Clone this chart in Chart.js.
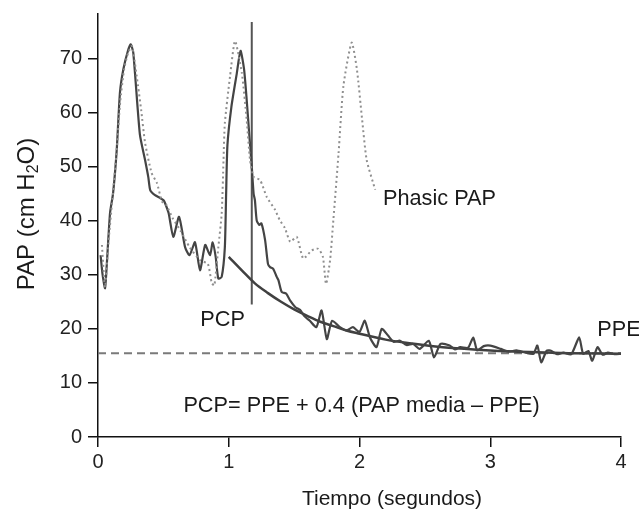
<!DOCTYPE html>
<html>
<head>
<meta charset="utf-8">
<script src="https://cdn.jsdelivr.net/npm/chart.js@4/dist/chart.umd.min.js"></script>
<style>
  body { margin: 0; background: #fff; }
  canvas { display: block; }
</style>
</head>
<body>
<canvas id="chart" width="639" height="510"></canvas>
<script>
// PAP medida (trazo continuo)
const pasTime = [0.02, 0.035, 0.054, 0.066, 0.092, 0.115, 0.143, 0.168, 0.194, 0.23, 0.25, 0.27, 0.32, 0.36, 0.385, 0.40,
  0.436, 0.474, 0.5, 0.51, 0.54, 0.576, 0.62, 0.666, 0.70, 0.742, 0.78, 0.82, 0.857, 0.877, 0.90, 0.92, 0.946, 0.97,
  0.98, 0.99, 1.02, 1.06, 1.09, 1.117, 1.137, 1.158, 1.176, 1.19, 1.20, 1.214, 1.234, 1.25, 1.278, 1.30, 1.316, 1.34,
  1.367, 1.38, 1.405, 1.44, 1.47, 1.51, 1.545, 1.58, 1.62, 1.67, 1.71, 1.75, 1.79, 1.85, 1.90, 1.95, 2.0, 2.04, 2.08,
  2.13, 2.17, 2.22, 2.26, 2.31, 2.36, 2.41, 2.46, 2.53, 2.57, 2.62, 2.69, 2.73, 2.77, 2.83, 2.87, 2.90, 2.95, 3.0,
  3.08, 3.14, 3.2, 3.27, 3.33, 3.36, 3.39, 3.43, 3.46, 3.51, 3.56, 3.62, 3.68, 3.71, 3.75, 3.78, 3.82, 3.86, 3.9, 3.95, 4.0];
const pasPAP = [33.6, 30, 27.5, 31.4, 41.4, 45, 53, 63.7, 68, 71.5, 72.6, 71, 56, 51.2, 48, 45.6,
  44.7, 44.2, 43.8, 43.4, 41.4, 37, 40.7, 35.1, 33.6, 36, 30.8, 35.5, 33.6, 36, 33.3, 29.3, 29.6, 35,
  45, 54, 61, 67, 71.4, 68, 62.4, 55.6, 50, 45, 43.8, 40, 39.2, 39.5, 36.4, 32, 31.4, 31.1,
  29.6, 29, 26.8, 26.5, 25.2, 24, 23.5, 22.3, 21.5, 20.3, 23.4, 18.1, 21.5, 20.3, 19.7, 20.3, 19.4, 21.5, 18.4,
  16.6, 20, 18.7, 17.6, 17.8, 17.0, 17.2, 16.3, 17.8, 14.7, 17.2, 16.9, 16.2, 16.6, 16.5, 18.4, 16.0, 16.8, 16.9,
  16.3, 15.8, 16.0, 15.6, 15.4, 16.9, 13.8, 15.9, 16.0, 15.3, 15.6, 15.3, 18.4, 15.4, 15.9, 14.1, 16.6, 15.2, 15.6, 15.3, 15.4];

// Phasic PAP (punteado)
const phasicTime = [0.03, 0.054, 0.08, 0.11, 0.14, 0.17, 0.2, 0.23, 0.26, 0.296, 0.33, 0.36, 0.41, 0.45, 0.49, 0.52,
  0.57, 0.63, 0.70, 0.78, 0.84, 0.87, 0.89, 0.92, 0.946, 0.96, 0.97, 1.01, 1.048, 1.10, 1.137, 1.163, 1.19, 1.24,
  1.29, 1.354, 1.39, 1.43, 1.47, 1.52, 1.57, 1.635, 1.685, 1.72, 1.744, 1.775, 1.80, 1.84, 1.877, 1.94, 1.98, 2.02, 2.055, 2.12];
const phasicPAP = [35.5, 27.7, 36, 44, 52, 62, 68, 71, 72.3, 66.7, 60.5, 54.4, 48.8, 47, 43.5, 43,
  40.5, 38.2, 35.1, 32.7, 32, 28.5, 28, 35, 41.3, 51.2, 58, 66.7, 73.2, 67.3, 58.7, 51.2, 48.1, 47.5,
  44.4, 42, 40.1, 38.6, 36.1, 37, 33, 34.5, 34.8, 33.3, 28.3, 32.7, 40.1, 52.5, 64.9, 72.9, 68, 58.7, 51.2, 45.7];

// curva PCP (ajuste)
const fitTime = [1.0, 1.1, 1.2, 1.3, 1.4, 1.5, 1.6, 1.7, 1.8, 1.9, 2.0, 2.2, 2.4, 2.6, 2.8, 3.0, 3.3, 3.6, 4.0];
const fitPCP = [33.3, 30.8, 28.4, 26.6, 25.0, 23.6, 22.4, 21.3, 20.5, 19.7, 19.1, 18.0, 17.3, 16.7, 16.3, 16.0, 15.7, 15.5, 15.4];

// PPE y marca de oclusion
const ppeTime = [0, 4];
const ppeLevel = [15.5, 15.5];
const markTime = [1.176, 1.176];
const markPAP = [24.5, 76.7];

const xTicks = [0, 1, 2, 3, 4];
const yTicks = [0, 10, 20, 30, 40, 50, 60, 70];

const pts = (xs, ys) => xs.map((v, i) => ({ x: v, y: ys[i] }));
const FONT = '"Liberation Sans", Arial, Helvetica, sans-serif';

const textos = {
  id: 'textos',
  afterDraw(chart) {
    const { ctx, scales: { x, y } } = chart;
    ctx.save();
    ctx.fillStyle = '#1a1a1a';
    ctx.font = '21.7px ' + FONT;
    ctx.textBaseline = 'middle';

    ctx.textAlign = 'left';
    ctx.fillText('Phasic PAP', x.getPixelForValue(2.18), y.getPixelForValue(44.0));
    ctx.textAlign = 'center';
    ctx.fillText('PCP', x.getPixelForValue(0.953), y.getPixelForValue(21.6));
    ctx.fillText('PPE', x.getPixelForValue(3.985), y.getPixelForValue(19.7));
    ctx.fillText('PCP= PPE + 0.4 (PAP media \u2013 PPE)', x.getPixelForValue(2.016), y.getPixelForValue(5.8));

    // titulo eje x
    ctx.font = '21px ' + FONT;
    ctx.fillText('Tiempo (segundos)', 392, 499);

    // titulo eje y con subindice
    const a = 'PAP (cm H', b = '2', c = 'O)';
    ctx.font = '24px ' + FONT;
    const wa = ctx.measureText(a).width, wc = ctx.measureText(c).width;
    ctx.font = '16px ' + FONT;
    const wb = ctx.measureText(b).width;
    const total = wa + wb + wc;
    ctx.translate(27, 214);
    ctx.rotate(-Math.PI / 2);
    ctx.textAlign = 'left';
    let px = -total / 2;
    ctx.font = '24px ' + FONT;
    ctx.fillText(a, px, 0);
    px += wa;
    ctx.font = '16px ' + FONT;
    ctx.fillText(b, px, 7);
    px += wb;
    ctx.font = '24px ' + FONT;
    ctx.fillText(c, px, 0);
    ctx.restore();
  }
};

const ctx = document.getElementById('chart').getContext('2d');
const chart = new Chart(ctx, {
  type: 'line',
  data: {
    datasets: [
      {
        label: 'Phasic PAP',
        data: pts(phasicTime, phasicPAP),
        borderColor: '#8f8f8f',
        borderWidth: 2,
        borderDash: [2, 3],
        pointRadius: 0,
        tension: 0.2
      },
      {
        label: 'PAP',
        data: pts(pasTime, pasPAP),
        borderColor: '#444',
        borderWidth: 2.2,
        pointRadius: 0,
        tension: 0.2
      },
      {
        label: 'PCP',
        data: pts(fitTime, fitPCP),
        borderColor: '#404040',
        borderWidth: 2.5,
        pointRadius: 0,
        cubicInterpolationMode: 'monotone'
      },
      {
        label: 'PPE',
        data: pts(ppeTime, ppeLevel),
        borderColor: '#7a7a7a',
        borderWidth: 2,
        borderDash: [8, 5],
        pointRadius: 0
      },
      {
        label: 'oclusion',
        data: pts(markTime, markPAP),
        borderColor: '#555',
        borderWidth: 2,
        pointRadius: 0
      }
    ]
  },
  options: {
    responsive: false,
    devicePixelRatio: 1,
    animation: false,
    layout: { padding: { left: 0, right: 18, top: 14, bottom: 0 } },
    plugins: { legend: { display: false }, tooltip: { enabled: false } },
    scales: {
      x: {
        type: 'linear',
        min: 0,
        max: 4,
        afterFit: (s) => { s.height = 73; s.paddingLeft = 0; s.paddingRight = 0; },
        afterBuildTicks: (s) => { s.ticks = xTicks.map(v => ({ value: v })); },
        grid: { drawOnChartArea: false, drawTicks: true, tickLength: 10, color: '#111', lineWidth: 1.5 },
        border: { color: '#111', width: 1.5 },
        ticks: { color: '#222', font: { size: 20, family: FONT }, padding: 3, maxRotation: 0 }
      },
      y: {
        min: 0,
        max: 78.2,
        afterFit: (s) => { s.width = 98; s.paddingTop = 0; s.paddingBottom = 0; },
        afterBuildTicks: (s) => { s.ticks = yTicks.map(v => ({ value: v })); },
        grid: { drawOnChartArea: false, drawTicks: true, tickLength: 10, color: '#111', lineWidth: 1.5 },
        border: { color: '#111', width: 1.5 },
        ticks: { color: '#222', font: { size: 20, family: FONT }, padding: 6 }
      }
    }
  },
  plugins: [textos]
});
</script>
</body>
</html>
